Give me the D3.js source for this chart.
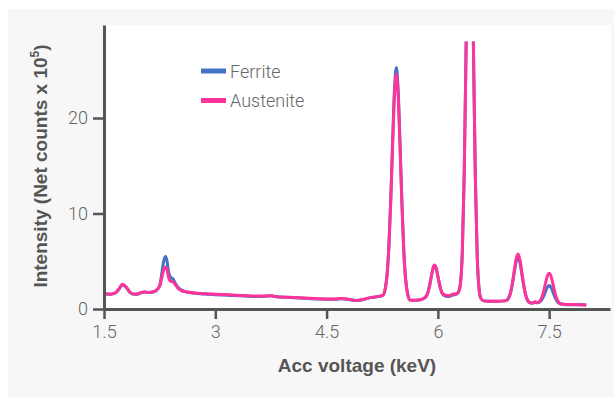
<!DOCTYPE html>
<html><head><meta charset="utf-8">
<script src="https://cdn.jsdelivr.net/npm/d3@7"></script>
<style>
html,body{margin:0;padding:0;background:#fff;}
svg{display:block;}
text{font-family:"Roboto","Liberation Sans",Arial,sans-serif;}
</style></head>
<body>
<svg id="chart" width="614" height="397"></svg>
<script>
const energy = [1.50,1.55,1.60,1.65,1.70,1.75,1.80,1.85,1.90,1.95,2.00,2.05,2.10,2.15,2.20,2.25,2.28,2.31,2.33,2.35,2.37,2.40,2.43,2.46,2.50,2.55,2.60,2.70,2.80,2.90,3.00,3.20,3.40,3.60,3.70,3.75,3.80,4.00,4.20,4.40,4.60,4.70,4.80,4.90,5.00,5.10,5.20,5.26,5.29,5.315,5.34,5.365,5.39,5.415,5.44,5.465,5.49,5.515,5.54,5.565,5.59,5.62,5.70,5.78,5.82,5.86,5.89,5.92,5.95,5.97,6.00,6.03,6.06,6.10,6.15,6.20,6.25,6.28,6.305,6.33,6.355,6.38,6.405,6.43,6.455,6.48,6.505,6.53,6.555,6.58,6.62,6.70,6.80,6.90,6.93,6.955,6.98,7.005,7.03,7.055,7.08,7.105,7.13,7.155,7.18,7.205,7.23,7.27,7.31,7.35,7.375,7.40,7.425,7.45,7.475,7.50,7.525,7.55,7.575,7.60,7.625,7.65,7.70,7.80,7.90,8.00];
const ferrite = [1.70,1.55,1.55,1.65,2.05,2.55,2.25,1.75,1.55,1.55,1.70,1.78,1.72,1.75,1.90,2.40,3.80,5.20,5.50,5.00,3.90,3.30,3.15,2.70,2.25,1.95,1.80,1.68,1.60,1.55,1.50,1.42,1.35,1.30,1.35,1.38,1.30,1.20,1.12,1.05,1.02,1.08,1.00,0.88,1.00,1.20,1.30,1.45,2.10,3.60,6.70,11.6,17.6,23.0,25.3,22.9,17.4,11.3,6.30,3.20,1.70,0.95,0.92,1.00,1.15,1.60,2.50,3.70,4.55,4.40,3.40,2.30,1.60,1.35,1.30,1.45,1.55,1.80,2.70,6.10,14.1,27.2,40.9,47.0,40.8,27.0,13.8,5.60,2.10,1.10,0.85,0.80,0.80,0.85,0.92,1.18,1.70,2.60,3.85,4.95,5.45,4.90,3.75,2.55,1.55,0.95,0.70,0.62,0.68,0.65,0.74,0.95,1.32,1.82,2.27,2.45,2.27,1.82,1.30,0.90,0.65,0.52,0.48,0.45,0.44,0.42];
const austenite = [1.70,1.58,1.58,1.68,2.10,2.60,2.30,1.78,1.58,1.58,1.72,1.78,1.74,1.78,1.95,2.40,3.30,4.20,4.40,4.10,3.30,2.90,2.85,2.55,2.15,1.90,1.80,1.70,1.62,1.58,1.55,1.48,1.40,1.35,1.38,1.40,1.32,1.22,1.15,1.08,1.05,1.10,1.02,0.90,1.02,1.22,1.32,1.45,2.10,3.50,6.50,11.3,17.1,22.4,24.6,22.3,16.9,11.0,6.10,3.10,1.65,0.95,0.92,1.00,1.15,1.60,2.50,3.75,4.60,4.45,3.45,2.35,1.65,1.45,1.40,1.55,1.60,1.80,2.70,6.10,14.1,27.2,40.9,47.0,40.8,27.0,13.8,5.60,2.10,1.10,0.85,0.80,0.80,0.85,0.92,1.18,1.75,2.75,4.05,5.25,5.75,5.20,3.95,2.65,1.60,1.00,0.72,0.62,0.75,0.68,0.84,1.20,1.83,2.68,3.43,3.75,3.43,2.68,1.80,1.15,0.75,0.55,0.50,0.47,0.45,0.43];
const xTicks = [1.5,3,4.5,6,7.5];
const yTicks = [0,10,20];
const seriesNames = ["Ferrite","Austenite"];
const seriesColors = ["#4472c4","#ff3399"];

const svg = d3.select("#chart");
svg.append("rect").attr("x",8).attr("y",9).attr("width",606).attr("height",388).attr("fill","#f7f7f7");

const x = d3.scaleLinear().domain([1.5, 8.32]).range([104, 610]);
const y = d3.scaleLinear().domain([0, 29.74]).range([309, 25]);

svg.append("rect").attr("x",104).attr("y",25).attr("width",507).attr("height",284).attr("fill","#fff");

svg.append("defs").append("clipPath").attr("id","clip")
  .append("rect").attr("x",104).attr("y",y(28)).attr("width",507).attr("height",309-y(28));

const line = d3.line().x((d,i)=>x(energy[i])).y(d=>y(d)).curve(d3.curveMonotoneX);
const g = svg.append("g").attr("clip-path","url(#clip)");
[ferrite, austenite].forEach((s,k)=>{
  g.append("path").datum(s).attr("d",line).attr("fill","none")
   .attr("stroke",seriesColors[k]).attr("stroke-width",3).attr("stroke-linejoin","round");
});

const axisColor = "#555";
const lightFont = '"Roboto","Liberation Sans",Arial,sans-serif';
const boldFont = '"Liberation Sans",Arial,sans-serif';
const xAxis = svg.append("g").attr("transform","translate(0,309)")
  .call(d3.axisBottom(x).tickValues(xTicks).tickSize(10).tickSizeOuter(0).tickPadding(6).tickFormat(d3.format("")));
const yAxis = svg.append("g").attr("transform","translate(104,0)")
  .call(d3.axisLeft(y).tickValues(yTicks).tickSize(11).tickSizeOuter(0).tickPadding(5));
[xAxis,yAxis].forEach(a=>{
  a.select(".domain").attr("stroke",axisColor).attr("stroke-width",3);
  a.selectAll(".tick line").attr("stroke",axisColor).attr("stroke-width",2.5);
  a.selectAll(".tick text").attr("fill","#666").attr("font-size",18).attr("font-weight",300)
    .style("font-family",lightFont);
});

svg.append("text").attr("x",357).attr("y",372).attr("text-anchor","middle").style("font-family",boldFont)
  .attr("font-size",19).attr("font-weight","bold").attr("fill","#555").text("Acc voltage (keV)");

const yt = svg.append("text").attr("transform","translate(47,166) rotate(-90)").attr("text-anchor","middle")
  .style("font-family",boldFont).attr("font-size",19).attr("font-weight","bold").attr("fill","#555");
yt.append("tspan").text("Intensity (Net counts x 10");
yt.append("tspan").attr("dy",-8).attr("font-size",12).text("5");
yt.append("tspan").attr("dy",8).text(")");

seriesNames.forEach((n,k)=>{
  const ly = 71 + k*29.5;
  svg.append("line").attr("x1",201).attr("x2",226).attr("y1",ly).attr("y2",ly)
    .attr("stroke",seriesColors[k]).attr("stroke-width",5);
  svg.append("text").attr("x",230).attr("y",ly+6.5).attr("font-size",18).attr("font-weight",300)
    .attr("fill","#666").text(n);
});
</script>
</body></html>
